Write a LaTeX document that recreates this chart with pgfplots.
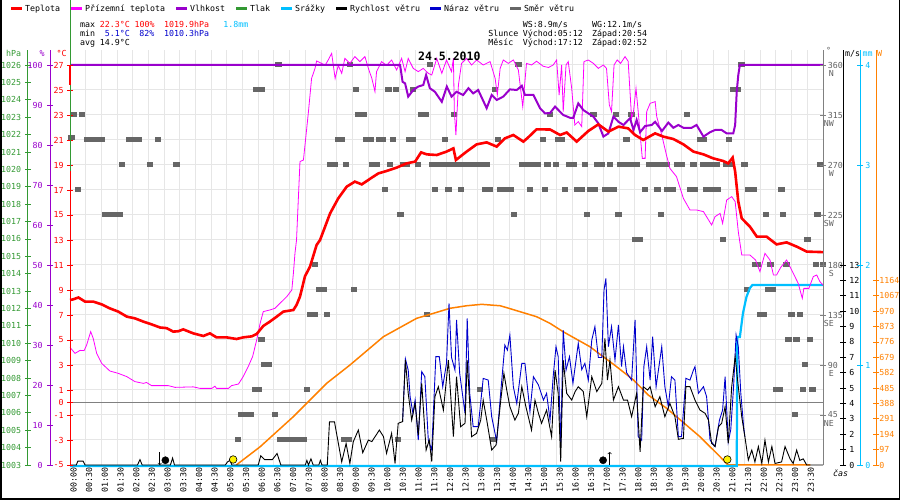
\documentclass[border=0pt]{standalone}
\usepackage{fontspec}
\setmainfont{DejaVu Sans Mono}
\usepackage{pgfplots}
\pgfplotsset{compat=1.18}
\definecolor{tred}{RGB}{255,0,0}
\definecolor{tmag}{RGB}{255,0,255}
\definecolor{tpur}{RGB}{153,0,204}
\definecolor{tgreen}{RGB}{51,153,51}
\definecolor{tcyan}{RGB}{0,191,255}
\definecolor{tblue}{RGB}{0,0,204}
\definecolor{tgray}{RGB}{102,102,102}
\definecolor{torange}{RGB}{255,128,0}
\definecolor{gridc}{RGB}{230,230,230}
\definecolor{zeroc}{RGB}{128,128,128}
\definecolor{dgray}{RGB}{96,96,96}
\newcommand\fs{\fontsize{8.3}{9.5}\selectfont}
\pgfplotsset{
 ov/.style={scale only axis, width=753pt, height=415pt, xmin=0, xmax=24,
   at={(70pt,35pt)}, anchor=south west, hide axis, clip=false},
 sc/.style={scale only axis, width=1pt, height=415pt, xmin=0, xmax=1,
   hide x axis, clip=false, tick align=center, major tick length=6pt,
   scaled y ticks=false, yticklabel style={font=\fs},
   /pgf/number format/1000 sep={}, /pgf/number format/assume math mode=true},
}
\begin{document}
\begin{tikzpicture}[x=1pt,y=1pt]
\path[use as bounding box] (0,0) rectangle (900,500);
\fs
% ---------- grid + time labels
\begin{axis}[scale only axis, width=753pt, height=415pt, xmin=0, xmax=24,
  at={(70pt,35pt)}, anchor=south west, ymin=-5, ymax=28.2, clip=false,
  axis line style={draw=none}, major tick length=0pt,
  xtick={0,0.5,...,23.5},
  xticklabels={00:00,00:30,01:00,01:30,02:00,02:30,03:00,03:30,04:00,04:30,05:00,05:30,06:00,06:30,07:00,07:30,08:00,08:30,09:00,09:30,10:00,10:30,11:00,11:30,12:00,12:30,13:00,13:30,14:00,14:30,15:00,15:30,16:00,16:30,17:00,17:30,18:00,18:30,19:00,19:30,20:00,20:30,21:00,21:30,22:00,22:30,23:00,23:30},
  xticklabel style={rotate=90, anchor=east, font=\fs, yshift=-3.5pt},
  ytick={-3,-1,1,3,5,7,9,11,13,15,17,19,21,23,25,27}, yticklabels={},
  xmajorgrids, ymajorgrids, grid style={draw=gridc, line width=1pt}]
\addplot[zeroc, line width=1pt] coordinates {(0,0)(24,0)};
\end{axis}
% ---------- wind direction squares
\begin{axis}[ov, ymin=0, ymax=373.5]
\addplot[tgray, only marks, mark=square*, mark size=2pt, mark options={xscale=1.35, draw=tgray, fill=tgray, line width=0pt}] coordinates {
(6.64,360)(8.92,360)(11.47,360)(14.29,360)(21.4,360)
(5.95,337.5)(6.1,337.5)(9.12,337.5)(10.15,337.5)(10.39,337.5)(10.94,337.5)(13.55,337.5)(21.15,337.5)(21.28,337.5)
(0.13,315)(0.38,315)(9.2,315)(9.36,315)(11.2,315)(11.33,315)(12.24,315)(15.3,315)(16.68,315)(17.4,315)(17.9,315)(19.66,315)
(0.05,295)(0.54,292.5)(0.7,292.5)(0.86,292.5)(1.02,292.5)(1.9,292.5)(2.05,292.5)(2.2,292.5)(2.8,292.5)(8.55,292.5)(8.65,292.5)(9.45,292.5)(9.6,292.5)(9.85,292.5)(9.98,292.5)(10.3,292.5)(10.8,292.5)(10.94,292.5)(11.95,292.5)(13.65,292.5)(15.07,292.5)(15.56,292.5)(15.67,292.5)(17.74,292.5)(20.1,292.5)(20.2,292.5)(21.0,292.5)
(1.65,270)(2.55,270)(3.4,270)(8.28,270)(8.43,270)(8.8,270)(9.62,270)(9.78,270)(10.2,270)(10.62,270)(10.73,270)(11.1,270)(11.56,270)(11.75,270)(11.9,270)(12.11,270)(12.3,270)(12.45,270)(12.6,270)(12.75,270)(12.92,270)(13.1,270)(13.28,270)(14.42,270)(14.58,270)(14.74,270)(14.9,270)(15.22,270)(15.49,270)(15.9,270)(16.05,270)(16.41,270)(16.8,270)(16.95,270)(17.21,270)(17.55,270)(17.7,270)(17.83,270)(18.06,270)(18.45,270)(18.6,270)(18.7,270)(18.92,270)(19.02,270)(19.35,270)(19.5,270)(19.87,270)(20.18,270)(20.29,270)(20.5,270)(20.6,270)(20.93,270)(21.09,270)(21.5,270)(23.9,270)
(0.25,247.5)(10.04,247.5)(11.63,247.5)(12.06,247.5)(12.46,247.5)(13.23,247.5)(13.39,247.5)(13.72,247.5)(13.88,247.5)(14.04,247.5)(14.66,247.5)(15.14,247.5)(15.78,247.5)(16.15,247.5)(16.3,247.5)(16.57,247.5)(16.73,247.5)(17.05,247.5)(17.2,247.5)(17.32,247.5)(18.33,247.5)(18.73,247.5)(19.04,247.5)(19.2,247.5)(19.76,247.5)(19.92,247.5)(20.29,247.5)(20.45,247.5)(20.66,247.5)(21.62,247.5)(21.78,247.5)(22.68,247.5)
(1.12,225)(1.27,225)(1.43,225)(1.59,225)(10.54,225)(14.15,225)(16.47,225)(17.48,225)(18.83,225)(22.18,225)(22.73,225)(23.83,225)
(18.0,202.5)(18.17,202.5)(20.82,202.5)(23.5,202.5)
(7.81,180)(21.83,180)(21.93,180)(22.33,180)(22.84,180)(23.78,180)(24.0,180)
(7.95,157.5)(8.1,157.5)(9.05,157.5)(21.57,157.5)(22.25,157.5)(22.4,157.5)
(7.65,135)(7.8,135)(8.2,135)(11.37,135)(22.0,135)(22.1,135)(23.0,135)(23.27,135)
(6.1,112.5)(22.9,112.5)(23.16,112.5)(23.59,112.5)
(6.2,90)(6.35,90)(23.43,90)
(5.9,67.5)(6.02,67.5)(7.55,67.5)(13.07,67.5)(22.5,67.5)(22.63,67.5)(23.37,67.5)(23.67,67.5)
(5.45,45)(5.6,45)(5.75,45)(6.53,45)(23.11,45)
(5.35,22.5)(6.7,22.5)(6.85,22.5)(7.0,22.5)(7.15,22.5)(7.3,22.5)(7.45,22.5)(8.75,22.5)(8.9,22.5)(10.46,22.5)(13.49,22.5)
};
\end{axis}
% ---------- solar radiation
\begin{axis}[ov, ymin=0, ymax=2616.6]
\addplot[torange, line width=1.5pt] coordinates {
(5.3,0)(6.06,115)(7.12,305)(8.18,515)(8.92,630)(9.99,809)(11.05,925)(11.58,956)(12.11,988)(12.64,1004)(13.12,1013)(13.71,1004)(13.92,992)(14.87,935)(15.3,893)(15.72,840)(16.57,746)(17.42,620)(17.96,536)(18.43,441)(19.02,357)(20.08,178)(20.72,52)(20.97,0)(23.6,0)};
\end{axis}
% ---------- rain
\begin{axis}[ov, ymin=0, ymax=4.15]
\addplot[tcyan, line width=2.2pt] coordinates {
(0,-0.01)(21.25,-0.01)(21.27,1.28)(21.35,1.28)(21.45,1.52)(21.56,1.68)(21.67,1.77)(21.75,1.8)(24,1.8)};
\end{axis}
% ---------- wind
\begin{axis}[ov, ymin=0, ymax=26.975]
\addplot[tblue, line width=0.9pt] coordinates {
(10.6,2.82)(10.69,6.9)(10.78,6.17)(10.84,4.44)(10.93,3.36)(11.0,4.22)(11.1,1.62)(11.21,6.07)(11.31,5.74)(11.42,1.62)(11.53,0.97)(11.66,7.04)(11.77,7.04)(11.88,5.09)(12.0,6.61)(12.08,10.51)(12.16,6.99)(12.27,6.17)(12.32,9.43)(12.42,5.96)(12.59,3.36)(12.66,9.53)(12.74,4.66)(12.85,2.49)(13.01,2.49)(13.17,5.63)(13.33,5.52)(13.44,3.14)(13.6,1.52)(13.73,4.77)(13.86,7.8)(13.94,7.47)(14.02,8.45)(14.13,5.09)(14.24,4.0)(14.4,6.61)(14.5,6.61)(14.66,3.47)(14.77,5.74)(14.93,5.2)(15.09,4.22)(15.19,4.66)(15.3,2.92)(15.4,5.74)(15.49,7.69)(15.56,7.04)(15.64,1.2)(15.72,8.77)(15.81,6.17)(15.92,7.04)(16.03,5.31)(16.2,7.91)(16.31,6.2)(16.41,6.61)(16.52,5.52)(16.63,8.12)(16.73,8.99)(16.84,6.99)(16.95,6.99)(17.02,11.37)(17.08,12.13)(17.16,7.69)(17.26,8.99)(17.37,6.82)(17.48,9.1)(17.58,6.4)(17.64,7.69)(17.74,6.0)(17.9,5.52)(18.01,9.43)(18.11,1.84)(18.22,1.62)(18.29,6.39)(18.38,7.69)(18.49,5.52)(18.57,8.34)(18.68,5.09)(18.8,6.82)(18.86,7.69)(18.96,5.09)(19.07,3.79)(19.17,5.74)(19.28,5.52)(19.39,1.84)(19.49,1.84)(19.63,5.63)(19.76,5.52)(19.87,6.17)(19.92,6.39)(20.03,4.66)(20.19,5.09)(20.29,4.44)(20.4,1.62)(20.56,1.2)(20.7,2.92)(20.8,3.57)(20.88,5.74)(20.98,1.5)(21.06,2.3)(21.15,5.09)(21.23,8.45)(21.3,7.69)(21.38,4.66)(21.47,2.49)(21.51,1.84)};
\addplot[black, line width=0.9pt] coordinates {
(0,0)(0.2,0)(0.25,0.25)(0.42,0.25)(0.48,0)(2.15,0)(2.23,0.35)(2.3,0)(3.2,0)(3.27,0.45)(3.33,0)(4.95,0)(5.02,0.2)(5.1,0.3)(5.16,0)(6.0,0)(6.08,0.6)(6.2,0.35)(6.45,0.35)(6.6,0.75)(6.72,0)(7.5,0)(7.55,0.3)(7.6,0)(7.68,0.4)(7.75,0)(7.93,0)(7.98,0.3)(8.03,0)(8.2,0)(8.27,2.8)(8.43,2.8)(8.66,0.2)(8.8,1.4)(8.92,0.1)(9.03,1.52)(9.19,2.27)(9.33,0.8)(9.51,1.62)(9.62,1.52)(9.86,2.27)(9.99,1.85)(10.09,0.76)(10.25,2.06)(10.36,0.1)(10.46,2.71)(10.6,2.82)(10.69,6.82)(10.78,4.66)(10.89,2.92)(11.0,4.0)(11.1,1.95)(11.21,5.31)(11.35,0.97)(11.45,1.62)(11.53,0.22)(11.63,4.44)(11.74,5.09)(11.9,3.57)(12.06,6.82)(12.22,1.84)(12.32,5.74)(12.45,2.49)(12.59,2.71)(12.66,6.82)(12.8,1.84)(12.96,2.06)(13.09,2.92)(13.17,4.22)(13.3,2.71)(13.44,0.97)(13.58,1.3)(13.73,4.22)(13.83,5.96)(13.92,4.87)(14.02,3.79)(14.18,2.92)(14.29,3.36)(14.4,5.09)(14.53,3.79)(14.71,2.27)(14.82,4.22)(14.93,3.36)(15.03,2.71)(15.19,3.57)(15.35,1.84)(15.46,6.17)(15.56,4.66)(15.64,0.22)(15.72,6.82)(15.83,4.66)(15.99,4.22)(16.1,4.77)(16.2,5.09)(16.36,4.77)(16.47,3.14)(16.63,5.74)(16.79,4.77)(16.95,5.31)(17.05,8.23)(17.13,5.52)(17.21,6.82)(17.32,4.22)(17.48,5.09)(17.64,4.22)(17.77,4.22)(17.9,3.14)(18.06,4.66)(18.17,0.85)(18.27,5.09)(18.41,4.87)(18.49,5.09)(18.65,3.79)(18.8,4.44)(18.96,3.14)(19.12,4.0)(19.28,3.14)(19.39,1.67)(19.55,1.73)(19.63,5.09)(19.76,5.09)(19.92,4.22)(20.08,3.57)(20.24,3.36)(20.35,2.92)(20.45,1.41)(20.56,1.2)(20.67,2.49)(20.77,2.71)(20.88,3.79)(20.98,1.41)(21.09,5.09)(21.2,7.04)(21.3,5.09)(21.41,3.14)(21.51,1.84)(21.62,0.32)(21.73,0.97)(21.83,0.2)(21.94,1.2)(22.05,0.1)(22.15,1.62)(22.26,0.2)(22.37,1.2)(22.47,0.1)(22.68,0.2)(22.79,1.2)(22.95,0.4)(23.05,0.1)(23.16,0.97)(23.26,0.3)(23.37,0.4)(23.48,0)(24,0)};
\end{axis}
% ---------- ground temperature
\begin{axis}[ov, ymin=-5, ymax=28.2]
\addplot[tmag, line width=0.8pt] coordinates {
(0,4.41)(0.16,3.93)(0.32,4.17)(0.45,4.15)(0.53,4.6)(0.66,5.67)(0.74,5.13)(0.85,3.93)(1.01,3.13)(1.27,2.52)(1.54,2.33)(1.81,2.07)(2.07,1.67)(2.34,1.53)(2.44,1.6)(2.6,1.35)(3.13,1.35)(3.35,1.21)(3.93,1.25)(4.14,1.13)(4.52,1.13)(4.62,1.3)(4.67,1.13)(5.05,1.13)(5.15,1.35)(5.37,1.48)(5.52,2.07)(5.68,2.87)(5.82,3.67)(5.95,5.0)(6.06,6.33)(6.16,7.27)(6.37,7.4)(6.53,7.53)(6.69,7.93)(6.91,8.47)(7.07,9.0)(7.12,10.33)(7.17,11.93)(7.22,13.0)(7.33,19.27)(7.44,19.4)(7.49,20.6)(7.6,23.27)(7.7,25.93)(7.81,26.73)(7.86,27.32)(8.02,27.13)(8.13,26.97)(8.23,27.4)(8.34,27.93)(8.45,25.93)(8.55,26.97)(8.66,26.33)(8.76,27.53)(8.92,27.13)(9.08,27.67)(9.24,27.27)(9.4,27.67)(9.51,26.73)(9.62,25.93)(9.72,24.87)(9.77,26.47)(9.93,27.27)(10.09,26.97)(10.25,27.4)(10.41,26.6)(10.57,27.53)(10.68,26.47)(10.78,27.53)(10.94,26.73)(11.1,26.47)(11.26,26.73)(11.42,26.33)(11.53,26.2)(11.69,27.53)(11.85,26.33)(12.0,27.4)(12.16,26.47)(12.22,27.53)(12.25,23.27)(12.3,21.4)(12.38,25.4)(12.48,27.13)(12.64,27.53)(12.8,27.0)(12.96,27.4)(13.17,27.0)(13.39,27.27)(13.55,25.93)(13.62,24.6)(13.71,26.73)(13.81,27.4)(13.97,27.13)(14.13,27.4)(14.29,26.6)(14.43,23.67)(14.55,27.13)(14.71,27.0)(14.87,27.3)(15.08,26.9)(15.25,26.8)(15.4,27.0)(15.51,27.4)(15.59,24.6)(15.67,27.0)(15.72,23.27)(15.81,27.0)(15.88,27.27)(15.99,25.13)(16.09,22.2)(16.2,22.47)(16.31,22.07)(16.38,27.27)(16.52,27.4)(16.68,27.13)(16.84,26.73)(17.0,27.0)(17.1,26.73)(17.19,23.8)(17.26,23.27)(17.34,27.0)(17.44,27.4)(17.55,27.13)(17.69,27.67)(17.79,27.3)(17.9,22.73)(17.96,23.27)(18.04,25.13)(18.11,23.27)(18.17,21.53)(18.24,19.53)(18.33,19.53)(18.38,23.27)(18.49,23.93)(18.65,24.07)(18.7,22.87)(18.86,21.4)(19.01,19.8)(19.12,18.73)(19.33,18.07)(19.55,16.33)(19.76,15.4)(19.97,15.4)(20.19,15.27)(20.45,14.2)(20.56,14.87)(20.72,15.13)(20.8,14.33)(20.93,16.2)(21.09,16.47)(21.2,16.07)(21.3,13.67)(21.41,11.8)(21.67,11.8)(21.85,11.4)(21.99,10.47)(22.15,11.93)(22.31,11.4)(22.42,10.2)(22.52,10.2)(22.65,10.8)(22.84,11.4)(23.0,10.6)(23.21,9.53)(23.34,8.33)(23.39,9.13)(23.55,9.13)(23.69,10.07)(23.8,10.2)(23.9,9.67)(24,9.4)};
\end{axis}
% ---------- humidity
\begin{axis}[ov, ymin=0, ymax=103.75]
\addplot[tpur, line width=2pt] coordinates {
(0,100)(10.52,100)(10.6,95.8)(10.68,95.4)(10.78,92.1)(10.94,93.75)(11.1,94.6)(11.26,95)(11.35,97.5)(11.47,94.2)(11.63,93.3)(11.85,90.8)(12.01,94.6)(12.16,92.1)(12.32,93.3)(12.53,92.5)(12.7,94.2)(12.85,92.9)(13.01,93.75)(13.28,89.2)(13.44,92.5)(13.6,91.25)(13.81,92.1)(14.02,93.9)(14.24,93.75)(14.4,94.8)(14.5,92.5)(14.77,92.5)(14.98,89.2)(15.14,87.9)(15.3,88.0)(15.46,89.6)(15.62,88.3)(15.72,87.5)(15.94,86.8)(16.04,86.8)(16.2,90.4)(16.36,88.75)(16.52,87.9)(16.68,87.1)(16.84,85.4)(17.0,82.1)(17.16,82.9)(17.32,87.1)(17.48,85.8)(17.64,85.0)(17.85,86.7)(17.96,83.75)(18.06,86.25)(18.17,83.2)(18.33,84.75)(18.54,85)(18.65,85.8)(18.87,83.5)(19.07,85.6)(19.23,84.3)(19.39,85)(19.55,84.3)(19.81,84.3)(19.97,85)(20.19,82.1)(20.4,83.2)(20.56,83.75)(20.77,83.75)(20.93,82.9)(21.14,82.9)(21.2,85)(21.25,93.3)(21.3,97.5)(21.35,100)(24,100)};
\end{axis}
% ---------- air temperature + markers
\begin{axis}[ov, ymin=-5, ymax=28.2]
\addplot[tred, line width=2.6pt] coordinates {
(0,8.2)(0.1,8.25)(0.27,8.4)(0.48,8.07)(0.74,8.07)(1.01,7.85)(1.27,7.53)(1.54,7.27)(1.81,6.87)(2.07,6.73)(2.34,6.47)(2.6,6.25)(2.87,6.0)(3.08,5.95)(3.29,5.67)(3.45,5.7)(3.61,5.85)(3.93,5.53)(4.25,5.32)(4.46,5.53)(4.67,5.21)(4.99,5.21)(5.31,5.08)(5.52,5.21)(5.79,5.29)(5.95,5.48)(6.16,6.12)(6.37,6.47)(6.59,6.87)(6.8,7.27)(7.12,7.4)(7.22,7.8)(7.33,8.47)(7.49,10.1)(7.65,10.87)(7.86,12.6)(7.97,13.0)(8.29,15.13)(8.55,16.33)(8.82,17.27)(9.08,17.67)(9.3,17.45)(9.62,17.99)(9.83,18.33)(10.09,18.52)(10.41,18.79)(10.73,19.13)(11.0,19.27)(11.19,20.01)(11.37,19.85)(11.69,19.8)(12.0,20.07)(12.22,20.33)(12.3,19.4)(12.64,20.07)(12.96,20.65)(13.28,20.81)(13.6,20.47)(13.86,21.13)(14.13,21.4)(14.45,20.87)(14.6,21.2)(14.87,21.85)(15.3,21.84)(15.62,21.4)(15.83,21.6)(16.15,20.87)(16.52,21.72)(16.84,22.25)(17.16,21.67)(17.48,22.07)(17.79,21.93)(18.01,21.4)(18.27,21.0)(18.65,21.53)(18.91,21.27)(19.23,21.08)(19.55,20.65)(19.87,20.07)(20.19,19.85)(20.5,19.53)(20.82,19.32)(20.98,19.13)(21.12,19.59)(21.2,18.47)(21.3,16.07)(21.41,14.73)(21.67,14.07)(21.89,13.27)(22.2,13.27)(22.52,12.65)(22.84,12.81)(23.16,12.47)(23.48,12.07)(24,12.03)};
\addplot[only marks, mark=*, mark size=3.8pt, mark options={fill=yellow, draw=black, line width=0.6pt}] coordinates {(5.2,-4.56)(20.95,-4.56)};
\addplot[only marks, mark=*, mark size=3.6pt, mark options={fill=black, draw=black}] coordinates {(3.04,-4.62)(16.99,-4.62)};
\addplot[black, line width=0.6pt, ->] coordinates {(17.2,-5)(17.2,-3.96)};
\addplot[black, line width=0.6pt, <-] coordinates {(2.86,-5)(2.86,-3.96)};
\end{axis}
% ---------- left scales
\begin{axis}[sc, at={(28pt,35pt)}, anchor=south west, ymin=1003, ymax=1026.8625,
  axis y line*=left, y axis line style={draw=tgreen, line width=1pt},
  ytick={1003,1004,...,1026}, ytick style={draw=tgreen, line width=0.8pt},
  yticklabel style={text=tgreen, xshift=-0.8pt}]
\end{axis}
\begin{axis}[sc, at={(50pt,35pt)}, anchor=south west, ymin=0, ymax=103.75,
  axis y line*=left, y axis line style={draw=tpur, line width=1pt},
  ytick={0,10,...,100}, ytick style={draw=tpur, line width=0.8pt},
  yticklabel style={text=tpur, xshift=-1.5pt}]
\end{axis}
\begin{axis}[sc, at={(70pt,35pt)}, anchor=south west, ymin=-5, ymax=28.2,
  axis y line*=left, y axis line style={draw=tred, line width=1pt},
  ytick={-5,-3,-1,0,1,3,5,7,9,11,13,15,17,19,21,23,25,27}, ytick style={draw=tred, line width=0.8pt},
  yticklabel style={text=tred, xshift=-0.5pt}]
\end{axis}
% green line and red segment at 00:00
\begin{axis}[ov, ymin=1003, ymax=1026.8625]
\addplot[tgreen, line width=1pt] coordinates {(0,1019.9)(0,1029.74)};
\end{axis}
\begin{axis}[ov, ymin=-5, ymax=28.2]
\addplot[tred, line width=1.4pt] coordinates {(0,27)(0,25.4)};
\end{axis}
% ---------- right scales
\begin{axis}[sc, at={(823pt,35pt)}, anchor=south east, ymin=0, ymax=373.5,
  axis y line*=right, y axis line style={draw=zeroc, line width=1pt},
  ytick={45,90,...,360}, ytick style={draw=zeroc, line width=0.8pt},
  yticklabel style={text=dgray, xshift=-1pt},
  extra y ticks={45,90,...,360},
  extra y tick labels={NE,\phantom{N}E,SE,\phantom{N}S,SW,\phantom{N}W,NW,\phantom{N}N},
  extra y tick style={major tick length=0pt, tick label style={yshift=-8.5pt, xshift=-1pt}}]
\end{axis}
\begin{axis}[sc, at={(843pt,35pt)}, anchor=south east, ymin=0, ymax=26.975,
  axis y line*=right, y axis line style={draw=black, line width=1pt},
  ytick={0,1,...,13}, ytick style={draw=black, line width=0.8pt},
  yticklabel style={text=black, xshift=0.5pt}]
\end{axis}
\begin{axis}[sc, at={(860pt,35pt)}, anchor=south east, ymin=0, ymax=4.15,
  axis y line*=right, y axis line style={draw=tcyan, line width=1pt},
  ytick={0,1,2,3,4}, ytick style={draw=tcyan, line width=0.8pt},
  yticklabel style={text=tcyan, xshift=-0.5pt}]
\end{axis}
\begin{axis}[sc, at={(876pt,35pt)}, anchor=south east, ymin=0, ymax=2616.6,
  axis y line*=right, y axis line style={draw=torange, line width=1pt},
  ytick={0,97,...,1164}, ytick style={draw=torange, line width=0.8pt},
  yticklabel style={text=torange, xshift=-2.6pt}]
\end{axis}
% ---------- frame
\draw[black, line width=1.5pt] (0.75,500) -- (0.75,0.75) -- (899.25,0.75) -- (899.25,500);
% ---------- legend
\foreach \xa/\col/\txt in {11/tred/Teplota, 71/tmag/Přízemní teplota, 176/tpur/Vlhkost, 236/tgreen/Tlak, 281/tcyan/Srážky, 336/black/Rychlost větru, 430/tblue/Náraz větru, 510/tgray/Směr větru}{
  \draw[\col, line width=2.6pt] (\xa,491.5) -- ++(11,0);
  \node[anchor=base west, inner sep=0pt] at (\xa+14,488.7) {\fs \txt};
}
% ---------- stats
\node[anchor=base west, inner sep=0pt] at (80,472.7) {\fs max};
\node[anchor=base west, inner sep=0pt, text=tred] at (99.76,472.7) {\fs 22.3°C};
\node[anchor=base west, inner sep=0pt, text=tred] at (134.34,472.7) {\fs 100\%};
\node[anchor=base west, inner sep=0pt, text=tred] at (163.98,472.7) {\fs 1019.9hPa};
\node[anchor=base west, inner sep=0pt, text=tcyan] at (223.26,472.7) {\fs 1.8mm};
\node[anchor=base west, inner sep=0pt] at (80,463.3) {\fs min};
\node[anchor=base west, inner sep=0pt, text=tblue] at (104.7,463.3) {\fs 5.1°C};
\node[anchor=base west, inner sep=0pt, text=tblue] at (139.28,463.3) {\fs 82\%};
\node[anchor=base west, inner sep=0pt, text=tblue] at (163.98,463.3) {\fs 1010.3hPa};
\node[anchor=base west, inner sep=0pt] at (80,454) {\fs avg};
\node[anchor=base west, inner sep=0pt] at (99.76,454) {\fs 14.9°C};
\node[anchor=base west, inner sep=0pt] at (522.7,472.7) {\fs WS:8.9m/s};
\node[anchor=base west, inner sep=0pt] at (591.9,472.7) {\fs WG:12.1m/s};
\node[anchor=base west, inner sep=0pt] at (488.1,463.3) {\fs Slunce};
\node[anchor=base west, inner sep=0pt] at (522.7,463.3) {\fs Východ:05:12};
\node[anchor=base west, inner sep=0pt] at (591.9,463.3) {\fs Západ:20:54};
\node[anchor=base west, inner sep=0pt] at (488.1,454) {\fs Měsíc};
\node[anchor=base west, inner sep=0pt] at (522.7,454) {\fs Východ:17:12};
\node[anchor=base west, inner sep=0pt] at (591.9,454) {\fs Západ:02:52};
% ---------- title
\node[anchor=base west, inner sep=0pt] at (418,439) {\fontsize{11.5}{12}\selectfont\bfseries 24.5.2010};
% ---------- axis headers
\node[anchor=base west, inner sep=0pt, text=tgreen] at (6,443) {\fs hPa};
\node[anchor=base west, inner sep=0pt, text=tpur] at (39.5,443) {\fs \%};
\node[anchor=base west, inner sep=0pt, text=tred] at (56.5,443) {\fs °C};
\node[anchor=base west, inner sep=0pt, text=dgray] at (826,446) {\fs °};
\node[anchor=base west, inner sep=0pt] at (845,443) {\fs m/s};
\node[anchor=base west, inner sep=0pt, text=tcyan] at (862.5,443) {\fs mm};
\node[anchor=base west, inner sep=0pt, text=torange] at (877,443) {\fs W};
\node[anchor=base west, inner sep=0pt] at (833,23) {\fs\itshape čas};
\end{tikzpicture}
\end{document}
